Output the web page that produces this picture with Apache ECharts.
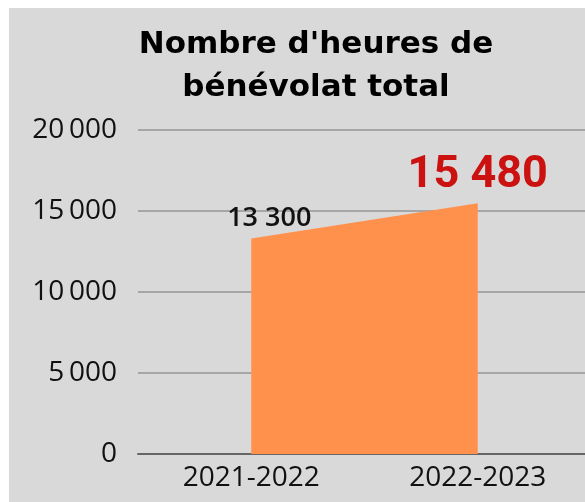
<!DOCTYPE html>
<html>
<head>
<meta charset="utf-8">
<script src="https://cdn.jsdelivr.net/npm/echarts@6/dist/echarts.min.js"></script>
<style>
  html, body { margin: 0; padding: 0; background: #ffffff; overflow: hidden; }
  #chart { position: absolute; left: 9px; top: 8px; width: 590px; height: 494px; }
</style>
</head>
<body>
<div id="chart"></div>
<script>
(function() {
    // data
    const seasons = ['2021-2022', '2022-2023'];
    const hours = [13300, 15480];
    const titleLines = ["Nombre d'heures de", 'bénévolat total'];

    const fmtAxis = (v) => v >= 1000 ? Math.floor(v / 1000) + '\u2009' + String(v % 1000).padStart(3, '0') : String(v);
    const fmtLabel = (v) => Math.floor(v / 1000) + ' ' + String(v % 1000).padStart(3, '0');

    const chart = echarts.init(document.getElementById('chart'));

    const labelStyles = [
        { color: '#111111', fontSize: 27, fontWeight: 600, fontFamily: 'Open Sans', offset: [18, -2] },
        { color: '#cc1111', fontSize: 45, fontWeight: 'bold', fontFamily: 'Roboto', offset: [0, 0] }
    ];

    const seriesData = hours.map((v, i) => ({
        value: v,
        label: Object.assign({
            show: true,
            position: 'top',
            formatter: (p) => fmtLabel(p.value)
        }, labelStyles[i])
    }));

    let option = {
        backgroundColor: '#d9d9d9',
        animation: false,
        graphic: [{
            type: 'text',
            x: 307,
            y: 15,
            style: {
                text: titleLines.join('\n'),
                textAlign: 'center',
                textVerticalAlign: 'top',
                fill: '#000000',
                font: 'bold 31px "DejaVu Sans"',
                lineHeight: 43
            }
        }],
        grid: {
            left: 129,
            top: 122,
            width: 453,
            height: 324
        },
        xAxis: {
            type: 'category',
            boundaryGap: true,
            data: seasons,
            axisLine: { lineStyle: { color: '#666666', width: 2 } },
            axisTick: { show: false },
            axisLabel: { color: '#111111', fontSize: 28, fontFamily: 'Open Sans', margin: 10 }
        },
        yAxis: {
            type: 'value',
            min: 0,
            max: 20000,
            interval: 5000,
            axisLine: { show: false },
            axisTick: { show: false },
            splitLine: { lineStyle: { color: '#a6a6a6', width: 2 } },
            axisLabel: { color: '#111111', fontSize: 28, fontFamily: 'Open Sans', margin: 21, formatter: fmtAxis }
        },
        series: [{
            type: 'line',
            data: seriesData,
            symbol: 'circle',
            symbolSize: 0,
            showSymbol: true,
            lineStyle: { width: 0 },
            areaStyle: { color: '#ff914d', opacity: 1 }
        }]
    };

    chart.setOption(option);
})();
</script>
</body>
</html>
